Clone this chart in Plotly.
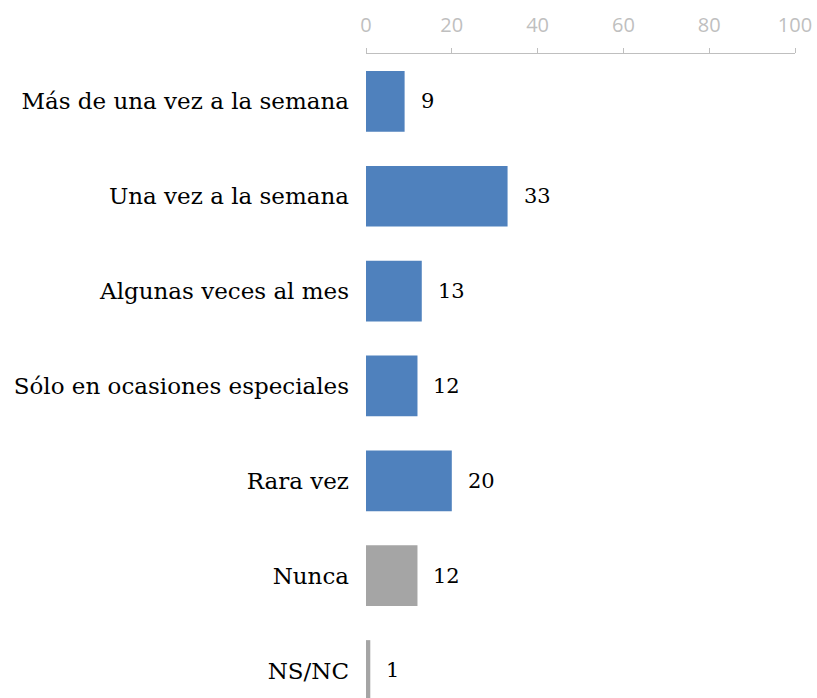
import plotly.graph_objects as go

categories = ["Más de una vez a la semana", "Una vez a la semana", "Algunas veces al mes",
              "Sólo en ocasiones especiales", "Rara vez", "Nunca", "NS/NC"]
values = [9, 33, 13, 12, 20, 12, 1]
colors = ["#4F81BD"] * 5 + ["#A5A5A5"] * 2
tick_vals = [0, 20, 40, 60, 80, 100]

fig = go.Figure(go.Bar(
    x=values, y=categories, orientation="h",
    marker=dict(color=colors, line=dict(width=0)),
    width=0.64, hoverinfo="skip",
))

for c, v in zip(categories, values):
    fig.add_annotation(x=v, y=c, text=str(v), showarrow=False, xanchor="left",
                       xshift=14, font=dict(family="DejaVu Serif", size=21, color="#000000"))

fig.update_layout(
    width=817, height=698,
    margin=dict(l=366, r=22, t=54, b=0),
    paper_bgcolor="white", plot_bgcolor="white",
    showlegend=False,
    font=dict(family="DejaVu Serif", color="#000000"),
)
fig.update_xaxes(
    side="top", range=[0, 100], tickvals=tick_vals,
    showgrid=False, zeroline=False,
    showline=True, linecolor="#BFBFBF", linewidth=1,
    ticks="outside", ticklen=5, tickcolor="#BFBFBF",
    ticklabelstandoff=8,
    tickfont=dict(family="Open Sans", size=20, color="#BFBFBF"),
    fixedrange=True,
)
fig.update_yaxes(
    categoryorder="array", categoryarray=categories,
    range=[6.29, -0.5],
    showgrid=False, zeroline=False, showline=False, ticks="",
    ticklabelstandoff=16,
    tickfont=dict(family="DejaVu Serif", size=23, color="#000000"),
    fixedrange=True,
)

fig.write_html("out.html", config={"displayModeBar": False},
               post_script="document.body.style.margin='0';document.body.style.overflow='hidden';")
